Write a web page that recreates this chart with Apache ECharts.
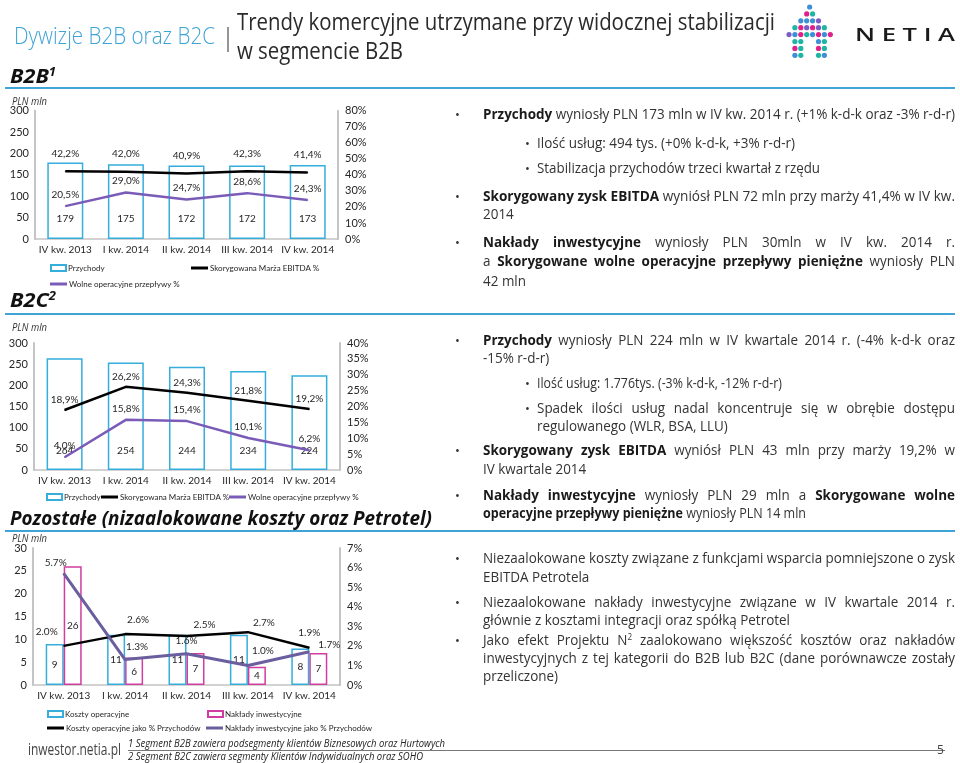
<!DOCTYPE html>
<html><head><meta charset="utf-8">
<script src="https://cdn.jsdelivr.net/npm/echarts@6/dist/echarts.min.js"></script>
<style>
html,body{margin:0;padding:0;background:#fff;}
#wrap{position:relative;width:960px;height:763px;overflow:hidden;font-family:"Open Sans",sans-serif;color:#3a3a3a;}
#chart{position:absolute;left:0;top:0;width:960px;height:763px;}
#txt{position:absolute;left:0;top:0;width:960px;height:763px;pointer-events:none;}
.t{position:absolute;white-space:nowrap;transform-origin:0 50%;line-height:1;}
.t b{color:#1a1a1a;font-weight:700;}
.rule{position:absolute;height:2px;background:#3fa3d6;}
</style></head><body>
<div id="wrap"><div id="chart"></div><div id="txt"></div></div>
<script>
// ---------- data ----------
const categories = ['IV kw. 2013', 'I kw. 2014', 'II kw. 2014', 'III kw. 2014', 'IV kw. 2014'];
const b2bRevenue = [179, 175, 172, 172, 173];
const b2bEbitdaMargin = [42.2, 42.0, 40.9, 42.3, 41.4];
const b2bFcfMargin = [20.5, 29.0, 24.7, 28.6, 24.3];
const b2cRevenue = [264, 254, 244, 234, 224];
const b2cEbitdaMargin = [18.9, 26.2, 24.3, 21.8, 19.2];
const b2cFcfMargin = [4.0, 15.8, 15.4, 10.1, 6.2];
const otherOpex = [9, 11, 11, 11, 8];
const otherCapex = [26, 6, 7, 4, 7];
const otherOpexPct = [2.0, 2.6, 2.5, 2.7, 1.9];
const otherCapexPct = [5.7, 1.3, 1.6, 1.0, 1.7];
const nameRevenue = 'Przychody';
const nameEbitda = 'Skorygowana Marża EBITDA %';
const nameFcf = 'Wolne operacyjne przepływy %';
const nameOpex = 'Koszty operacyjne';
const nameCapex = 'Nakłady inwestycyjne';
const nameOpexPct = 'Koszty operacyjne jako % Przychodów';
const nameCapexPct = 'Nakłady inwestycyjne jako % Przychodów';

// label placement tweaks (style only)
const opexPctLabelOffset = [[-17, -14], [13, -14], [18, -11], [16, -9], [0, -15]];
const capexPctLabelOffset = [[-8, -11], [12, -13], [0, -13], [15, -15], [20, -7]];

// ---------- chart ----------
const AX = '#c4c4c4';
const FONT = 'Lato';
const TXT = '#262626';
const BLUE = '#35aedc';
const PINK = '#d03ca0';
const PURPLE = '#7a5cb8';
const PURPLE2 = '#6a5e9e';
function pct(v, sep) { return v.toFixed(1).replace('.', sep) + '%'; }

const grids = [
  {left: 35, top: 110.7, width: 303, height: 128.3},
  {left: 34, top: 343, width: 306, height: 127},
  {left: 33, top: 548, width: 307, height: 137}
];

function yAx(gi, max, interval, right) {
  return {
    type: 'value', gridIndex: gi, min: 0, max: max, interval: interval,
    position: right ? 'right' : 'left',
    splitLine: {show: false},
    axisLine: {show: true, lineStyle: {color: AX, width: 2}},
    axisTick: {show: false},
    axisLabel: {color: TXT, fontSize: 11, fontFamily: FONT, margin: right ? 7 : 6,
      formatter: right ? '{value}%' : '{value}'}
  };
}
function lineSeries(name, gi, data, color, width, sep, labelCfg) {
  return {
    type: 'line', name: name, xAxisIndex: gi, yAxisIndex: gi * 2 + 1, data: data,
    symbol: 'circle', symbolSize: 1, showSymbol: true,
    lineStyle: {color: color, width: width}, itemStyle: {color: color},
    label: Object.assign({show: true, color: TXT, fontSize: 10, fontFamily: FONT,
      formatter: p => pct(typeof p.value === 'number' ? p.value : p.data.value, sep)}, labelCfg),
    z: 5, animation: false
  };
}
function withOffsets(data, offs) {
  return data.map((v, i) => ({value: v, label: {offset: offs[i]}}));
}
function lg(name, left, top, isBar) {
  return {data: [name], left: left, top: top, orient: 'horizontal',
    icon: 'rect',
    itemWidth: isBar ? 15 : 17, itemHeight: isBar ? 6 : 3, itemGap: 0, padding: 0,
    selectedMode: false,
    textStyle: {fontSize: 8, color: TXT, fontFamily: FONT, padding: [0, 0, 0, -3]}};
}

const option = {
  animation: false,
  grid: grids.map(g => Object.assign({outerBoundsMode: 'none', containLabel: false}, g)),
  xAxis: grids.map((g, i) => ({
    type: 'category', gridIndex: i, data: categories,
    axisLine: {show: true, lineStyle: {color: AX, width: 1.5}},
    axisTick: {show: false},
    axisLabel: {color: TXT, fontSize: 10, fontFamily: FONT, margin: 6, interval: 0}
  })),
  yAxis: [
    yAx(0, 300, 50, false), yAx(0, 80, 10, true),
    yAx(1, 300, 50, false), yAx(1, 40, 5, true),
    yAx(2, 30, 5, false), yAx(2, 7, 1, true)
  ],
  legend: [
    lg(nameRevenue, 50, 264, true), lg(nameEbitda, 191, 264), lg(nameFcf, 50, 280),
    lg(nameRevenue, 46, 493, true), lg(nameEbitda, 101, 493), lg(nameFcf, 229, 493),
    lg(nameOpex, 47, 710, true), lg(nameCapex, 207, 710, true),
    lg(nameOpexPct, 47, 724), lg(nameCapexPct, 206, 724)
  ],
  series: [
    {type: 'bar', name: nameRevenue, xAxisIndex: 0, yAxisIndex: 0, data: b2bRevenue, barWidth: 36,
      itemStyle: {color: '#fff', borderColor: BLUE, borderWidth: 1.5},
      label: {show: true, position: 'insideBottom', distance: 15, color: TXT, fontSize: 10, fontFamily: FONT}},
    lineSeries(nameEbitda, 0, b2bEbitdaMargin, '#000', 2.5, ',', {position: 'top', distance: 12}),
    lineSeries(nameFcf, 0, b2bFcfMargin, PURPLE, 2.5, ',', {position: 'top', distance: 6}),

    {type: 'bar', name: nameRevenue, xAxisIndex: 1, yAxisIndex: 2, data: b2cRevenue, barWidth: 36,
      itemStyle: {color: '#fff', borderColor: BLUE, borderWidth: 1.5},
      label: {show: true, position: 'insideBottom', distance: 14, color: TXT, fontSize: 10, fontFamily: FONT}},
    lineSeries(nameEbitda, 1, b2cEbitdaMargin, '#000', 2.5, ',', {position: 'top', distance: 5}),
    lineSeries(nameFcf, 1, b2cFcfMargin, PURPLE, 2.5, ',', {position: 'top', distance: 6}),

    {type: 'bar', name: nameOpex, xAxisIndex: 2, yAxisIndex: 4, data: otherOpex, barWidth: 18, barGap: '0%',
      itemStyle: {color: '#fff', borderColor: BLUE, borderWidth: 1.5},
      label: {show: true, position: 'inside', color: TXT, fontSize: 10, fontFamily: FONT}},
    {type: 'bar', name: nameCapex, xAxisIndex: 2, yAxisIndex: 4, data: otherCapex, barWidth: 18, barGap: '0%',
      itemStyle: {color: '#fff', borderColor: PINK, borderWidth: 1.5},
      label: {show: true, position: 'inside', color: TXT, fontSize: 10, fontFamily: FONT}},
    lineSeries(nameOpexPct, 2, withOffsets(otherOpexPct, opexPctLabelOffset), '#000', 2.5, '.', {position: 'inside'}),
    lineSeries(nameCapexPct, 2, withOffsets(otherCapexPct, capexPctLabelOffset), PURPLE2, 3, '.', {position: 'inside'})
  ]
};
const chart = echarts.init(document.getElementById('chart'), null, {renderer: 'canvas'});
chart.setOption(option);

// ---------- slide text ----------
const txt = document.getElementById('txt');
const Bd = s => '<b>' + s + '</b>';
const SUP = s => '<span style="font-size:0.6em;vertical-align:0.55em">' + s + '</span>';

const headings = [
  {x: 14, y: 35, fs: 24, w: 201, h: 'Dywizje B2B oraz B2C', st: 'color:#3fa3d6;font-weight:300'},
  {x: 221, y: 36, fs: 26, h: '|', st: 'color:#444;font-weight:300'},
  {x: 237, y: 21, fs: 24, w: 538, h: 'Trendy komercyjne utrzymane przy widocznej stabilizacji', st: 'color:#2a2a2a;font-weight:400'},
  {x: 237, y: 50, fs: 24, w: 166, h: 'w segmencie B2B', st: 'color:#2a2a2a;font-weight:400'},
  {x: 855, y: 34, fs: 18, w: 100, h: 'N E T I A', st: 'color:#1a1a1a;font-weight:600'},
  {x: 10, y: 76, fs: 20, w: 46, h: 'B2B' + SUP('1'), st: 'color:#111;font-weight:700;font-style:italic'},
  {x: 10, y: 300, fs: 20, w: 46, h: 'B2C' + SUP('2'), st: 'color:#111;font-weight:700;font-style:italic'},
  {x: 10, y: 518, fs: 20, w: 422, h: 'Pozostałe (nizaalokowane koszty oraz Petrotel)', st: 'color:#111;font-weight:700;font-style:italic'},
  {x: 12, y: 100, fs: 11, w: 35, h: 'PLN mln', st: 'font-style:italic;color:#333'},
  {x: 12, y: 326, fs: 11, w: 35, h: 'PLN mln', st: 'font-style:italic;color:#333'},
  {x: 12, y: 537, fs: 11, w: 35, h: 'PLN mln', st: 'font-style:italic;color:#333'},
  {x: 28, y: 748, fs: 17, w: 93, h: 'inwestor.netia.pl', st: 'color:#444;font-weight:400'},
  {x: 128, y: 743, fs: 10, w: 317, h: '1 Segment B2B zawiera podsegmenty klientów Biznesowych oraz Hurtowych', st: 'font-style:italic;color:#222'},
  {x: 128, y: 756, fs: 10, w: 295, h: '2 Segment B2C zawiera segmenty Klientów Indywidualnych oraz SOHO', st: 'font-style:italic;color:#222'},
  {x: 937, y: 750, fs: 12, h: '5', st: 'color:#444'}
];

const body = [
  {x: 483, y: 114, w: 472, cal: 1, h: Bd('Przychody') + ' wyniosły PLN 173 mln w IV kw. 2014 r. (+1% k-d-k oraz -3% r-d-r)'},
  {x: 537, y: 143, w: 258, cal: 1, h: 'Ilość usług: 494 tys. (+0% k-d-k, +3% r-d-r)'},
  {x: 537, y: 168, w: 283, cal: 1, h: 'Stabilizacja przychodów trzeci kwartał z rzędu'},
  {x: 483, y: 196, w: 472, cal: 1, h: Bd('Skorygowany zysk EBITDA') + ' wyniósł PLN 72 mln przy marży 41,4% w IV kw.'},
  {x: 483, y: 214, h: '2014'},
  {x: 483, y: 242, w: 472, j: 1, h: Bd('Nakłady inwestycyjne') + ' wyniosły PLN 30mln w IV kw. 2014 r.'},
  {x: 483, y: 261, w: 472, j: 1, h: 'a ' + Bd('Skorygowane wolne operacyjne przepływy pieniężne') + ' wyniosły PLN'},
  {x: 483, y: 281, h: '42 mln'},

  {x: 483, y: 340, w: 472, j: 1, h: Bd('Przychody') + ' wyniosły PLN 224 mln w IV kwartale 2014 r. (-4% k-d-k oraz'},
  {x: 483, y: 358, h: '-15% r-d-r)'},
  {x: 537, y: 383, w: 242, cal: 1, h: 'Ilość usług: 1.776tys. (-3% k-d-k, -12% r-d-r)'},
  {x: 537, y: 408, w: 418, j: 1, h: 'Spadek ilości usług nadal koncentruje się w obrębie dostępu'},
  {x: 537, y: 426, h: 'regulowanego (WLR, BSA, LLU)'},
  {x: 483, y: 450, w: 472, j: 1, h: Bd('Skorygowany zysk EBITDA') + ' wyniósł PLN 43 mln przy marży 19,2% w'},
  {x: 483, y: 469, h: 'IV kwartale 2014'},
  {x: 483, y: 495, w: 472, j: 1, h: Bd('Nakłady inwestycyjne') + ' wyniosły PLN 29 mln a ' + Bd('Skorygowane wolne')},
  {x: 483, y: 513, w: 323, cal: 1, h: Bd('operacyjne przepływy pieniężne') + ' wyniosły PLN 14 mln'},

  {x: 483, y: 558, w: 472, j: 1, h: 'Niezaalokowane koszty związane z funkcjami wsparcia pomniejszone o zysk'},
  {x: 483, y: 577, h: 'EBITDA Petrotela'},
  {x: 483, y: 602, w: 472, j: 1, h: 'Niezaalokowane nakłady inwestycyjne związane w IV kwartale 2014 r.'},
  {x: 483, y: 620, w: 307, cal: 1, h: 'głównie z kosztami integracji oraz spółką Petrotel'},
  {x: 483, y: 640, w: 472, j: 1, h: 'Jako efekt Projektu N' + SUP('2') + ' zaalokowano większość kosztów oraz nakładów'},
  {x: 483, y: 658, w: 472, j: 1, h: 'inwestycyjnych z tej kategorii do B2B lub B2C (dane porównawcze zostały'},
  {x: 483, y: 676, h: 'przeliczone)'}
];
const bullets = [[455, 114], [455, 196], [455, 242], [455, 340], [455, 450], [455, 495], [455, 558], [455, 602], [455, 640],
  [525, 143], [525, 168], [525, 383], [525, 408]];

function mk(item, fs, extra) {
  const d = document.createElement('div');
  d.className = 't';
  d.style.left = item.x + 'px';
  d.style.top = (item.y - fs / 2) + 'px';
  d.style.fontSize = fs + 'px';
  d.style.height = fs + 'px';
  if (extra) d.style.cssText += extra;
  d.innerHTML = item.h;
  txt.appendChild(d);
  return d;
}

function layout() {
  txt.innerHTML = '';
  [[5, 88], [5, 314], [5, 531]].forEach(r => {
    const d = document.createElement('div'); d.className = 'rule';
    d.style.left = r[0] + 'px'; d.style.top = (r[1] - 1) + 'px'; d.style.width = '950px';
    txt.appendChild(d);
  });
  const fl = document.createElement('div'); fl.className = 'rule';
  fl.style.cssText += 'left:128px;top:749.5px;width:817px;height:1px;background:#777;';
  txt.appendChild(fl);

  headings.forEach(hd => {
    const d = mk(hd, hd.fs, hd.st);
    if (hd.w) {
      const n = d.getBoundingClientRect().width;
      d.style.transform = 'scaleX(' + (hd.w / n) + ')';
    }
  });
  bullets.forEach(b => {
    mk({x: b[0], y: b[1], h: '•'}, 13, 'color:#333');
  });
  const els = body.map(it => ({it: it, d: mk(it, 14, 'color:#333')}));
  const ratios = [];
  els.forEach(e => {
    e.n = e.d.getBoundingClientRect().width;
    if (e.it.cal) ratios.push(e.it.w / e.n);
  });
  ratios.sort((a, b) => a - b);
  const s = ratios[Math.floor(ratios.length / 2)];
  els.forEach(e => {
    const it = e.it;
    if (it.j) {
      if (e.n * s < it.w) {
        const spaces = (e.d.textContent.match(/ /g) || []).length;
        e.d.style.wordSpacing = ((it.w / s - e.n) / spaces) + 'px';
        e.d.style.transform = 'scaleX(' + s + ')';
      } else {
        e.d.style.transform = 'scaleX(' + (it.w / e.n) + ')';
      }
    } else if (it.cal) {
      let r = it.w / e.n;
      r = Math.max(s * 0.92, Math.min(s * 1.08, r));
      e.d.style.transform = 'scaleX(' + r + ')';
    } else {
      e.d.style.transform = 'scaleX(' + s + ')';
    }
  });

  // NETIA logo (decorative dot matrix)
  const C = {b: '#3d8fd6', m: '#e0218a', t: '#1fb5a5', p: '#7b5cc8'};
  const rows = [
    [[3.5, 'b']],
    [[3, 'm'], [4, 't']],
    [[2, 'b'], [3, 'b'], [4, 'b'], [5, 'p']],
    [[1, 't'], [2, 'm'], [3, 'p'], [4, 'm'], [5, 'p'], [6, 't']],
    [[0, 'p'], [1, 'b'], [2, 'm'], [3, 't'], [4, 'b'], [5, 'm'], [6, 'b'], [7, 'm']],
    [[1, 't'], [2, 't'], [5, 'b'], [6, 't']],
    [[1, 'm'], [2, 't'], [5, 'm'], [6, 't']],
    [[1, 'b'], [2, 't'], [5, 't'], [6, 'b']]
  ];
  let svg = '<svg xmlns="http://www.w3.org/2000/svg" width="60" height="64" style="position:absolute;left:780px;top:0">';
  rows.forEach((r, ri) => r.forEach(c => {
    svg += '<circle cx="' + (9 + 5.9 * c[0]) + '" cy="' + (7 + 6.9 * ri) + '" r="2.6" fill="' + C[c[1]] + '"/>';
  }));
  svg += '</svg>';
  txt.insertAdjacentHTML('beforeend', svg);
}
layout();
if (document.fonts && document.fonts.ready) document.fonts.ready.then(layout);
</script>
</body></html>
